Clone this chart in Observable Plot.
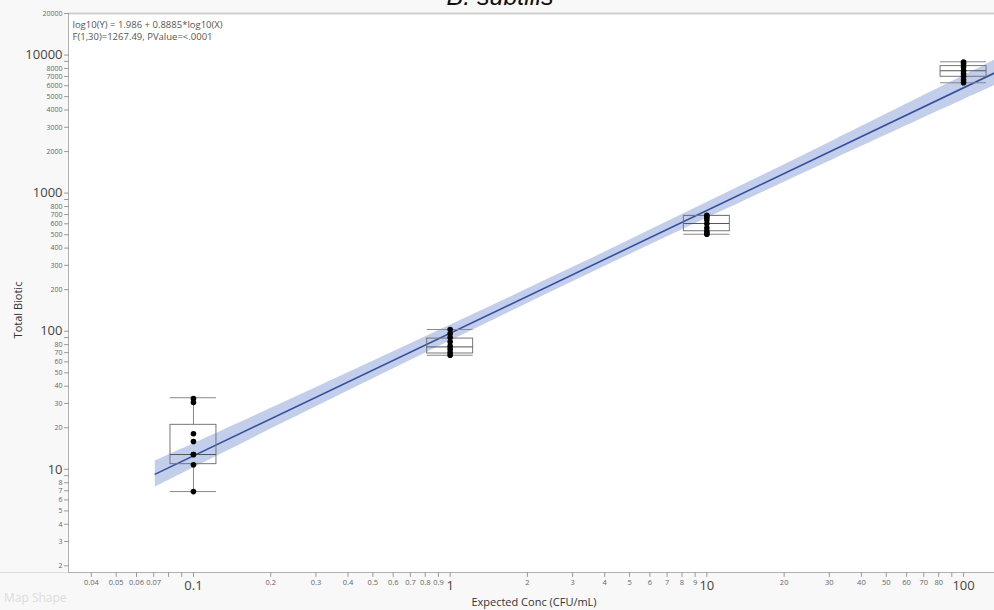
<!DOCTYPE html>
<html><head><meta charset="utf-8">
<script src="https://cdn.jsdelivr.net/npm/d3@7"></script>
<script src="https://cdn.jsdelivr.net/npm/@observablehq/plot@0.6"></script>
<style>
body{margin:0;background:#f8f8f8;font-family:"Open Sans","Noto Sans",sans-serif;}
#wrap{position:relative;width:994px;height:610px;overflow:hidden;background:#f8f8f8;}
#chart{position:absolute;left:0;top:0;}
#title{position:absolute;top:-18px;left:0;width:1000px;text-align:center;font:italic 25px "Liberation Sans",Arial,sans-serif;color:#111;}
#map{position:absolute;left:4px;top:589px;font-size:12px;color:#dcdcdc;}
#ylab{position:absolute;left:17px;top:310px;transform:translate(-50%,-50%) rotate(-90deg);font-size:11px;color:#333;white-space:nowrap;}
#xlab{position:absolute;left:534px;top:601px;transform:translate(-50%,-50%);font-size:11px;color:#333;white-space:nowrap;}
#sep{position:absolute;left:0;top:572px;width:68px;height:1px;background:#dcdcdc;}
</style></head><body>
<div id="wrap">
<div id="chart"></div>
<div id="title">B. subtilis</div>
<div id="sep"></div>
<div id="map">Map Shape</div>
<div id="ylab">Total Biotic</div>
<div id="xlab">Expected Conc (CFU/mL)</div>
</div>
<script>
// ---- data ----
const conc = [0.1, 1, 10, 100];
const biotic01 = [32.5, 30.5, 18.1, 15.9, 12.8, 12.8, 10.8, 6.9];
const biotic1 = [103, 96, 90, 84, 78, 74, 70, 67];
const biotic10 = [690, 670, 640, 600, 560, 530, 510, 504];
const biotic100 = [8900, 8650, 8200, 7700, 7350, 7000, 6600, 6300];
const boxMin = [6.9, 67, 504, 6300];
const boxQ1 = [10.9, 69, 530, 6960];
const boxMed = [12.8, 77, 603, 7700];
const boxQ3 = [21, 88.5, 684, 8320];
const boxMax = [33, 103, 690, 8940];
const fitIntercept = 1.986, fitSlope = 0.8885;
const fitX = [0.071, 132];
const bandX = [0.071, 0.1, 0.316, 1, 3.16, 10, 31.6, 100, 132];
const bandHalf = [0.094, 0.087, 0.069, 0.057, 0.051, 0.057, 0.069, 0.087, 0.093];
const xMajor = [0.1, 1, 10, 100];
const xMinorLabeled = [0.04,0.05,0.06,0.07,0.2,0.3,0.4,0.5,0.6,0.7,0.8,0.9,2,3,4,5,6,7,8,9,20,30,40,50,60,70,80];
const xMinorUnlabeled = [0.08, 0.09, 90];
const yMajor = [10, 100, 1000, 10000];
const yMinorLabeled = [2,3,4,5,6,7,8,20,30,40,50,60,70,80,200,300,400,500,600,700,800,2000,3000,4000,5000,6000,7000,8000,20000];
const yMinorUnlabeled = [9, 90, 900, 9000];
const eqLines = ["log10(Y) = 1.986 + 0.8885*log10(X)", "F(1,30)=1267.49, PValue=<.0001"];

// ---- build tables ----
const pts = [biotic01, biotic1, biotic10, biotic100].flatMap((arr, i) => arr.map(v => ({x: conc[i], y: v})));
const boxHalf = 1.229;
const boxes = conc.map((c, i) => ({x: c, x1: c / boxHalf, x2: c * boxHalf, min: boxMin[i], q1: boxQ1[i], med: boxMed[i], q3: boxQ3[i], max: boxMax[i]}));
const fit = x => Math.pow(10, fitIntercept + fitSlope * Math.log10(x));
const fitLine = fitX.map(x => ({x, y: fit(x)}));
const band = bandX.map((x, i) => {
  const c = fitIntercept + fitSlope * Math.log10(x);
  return {x, y1: Math.pow(10, c - bandHalf[i]), y2: Math.pow(10, c + bandHalf[i])};
});
const xDom = [0.0326, 132], yDom = [1.79, 20000];
const fmt = d => String(d);
const tickShape = {draw(context, l) { context.moveTo(0, 0); context.lineTo(0, -l); }};
const xTicksAll = [...xMajor, ...xMinorLabeled, ...xMinorUnlabeled];
const yTicksAll = [...yMajor, ...yMinorLabeled, ...yMinorUnlabeled];

const chart = Plot.plot({
  width: 994, height: 610,
  marginLeft: 68, marginRight: 0, marginTop: 13, marginBottom: 38,
  style: {background: "transparent", fontFamily: "'Open Sans','Noto Sans',sans-serif"},
  x: {type: "log", domain: xDom, axis: null},
  y: {type: "log", domain: yDom, axis: null},
  marks: [
    Plot.frame({fill: "white", stroke: null}),
    Plot.ruleY([yDom[1]], {stroke: "#cfcfcf", strokeWidth: 2}),
    Plot.areaY(band, {x: "x", y1: "y1", y2: "y2", fill: "#b9c5e8", fillOpacity: 0.85, curve: "catmull-rom"}),
    Plot.line(fitLine, {x: "x", y: "y", stroke: "#3350a0", strokeWidth: 1.6}),
    Plot.ruleX(boxes, {x: "x", y1: "min", y2: "q1", stroke: "#888", strokeWidth: 1}),
    Plot.ruleX(boxes, {x: "x", y1: "q3", y2: "max", stroke: "#888", strokeWidth: 1}),
    Plot.ruleY(boxes, {x1: "x1", x2: "x2", y: "min", stroke: "#888", strokeWidth: 1}),
    Plot.ruleY(boxes, {x1: "x1", x2: "x2", y: "max", stroke: "#888", strokeWidth: 1}),
    Plot.rect(boxes, {x1: "x1", x2: "x2", y1: "q1", y2: "q3", stroke: "#777", fill: "none", strokeWidth: 1}),
    Plot.ruleY(boxes, {x1: "x1", x2: "x2", y: "med", stroke: "#555", strokeWidth: 1}),
    Plot.dot(pts, {x: "x", y: "y", r: 2.8, fill: "black", stroke: null}),
    Plot.ruleX([xDom[0]], {stroke: "#b0b0b0"}),
    Plot.ruleY([yDom[0]], {stroke: "#b0b0b0"}),
    // x axis (manual)
    Plot.vector(xTicksAll, {x: d => d, frameAnchor: "bottom", length: 4, rotate: 180, anchor: "start", shape: tickShape, stroke: "#999", strokeWidth: 1}),
    Plot.text(xMajor, {x: d => d, text: fmt, frameAnchor: "bottom", lineAnchor: "top", dy: 8, fontSize: 13, fill: "#444"}),
    Plot.text(xMinorLabeled, {x: d => d, text: fmt, frameAnchor: "bottom", lineAnchor: "top", dy: 7, fontSize: 7.5, fill: "#666"}),
    // y axis (manual)
    Plot.vector(yTicksAll, {y: d => d, frameAnchor: "left", length: 4, rotate: 270, anchor: "start", shape: tickShape, stroke: "#999", strokeWidth: 1}),
    Plot.text(yMajor, {y: d => d, text: fmt, frameAnchor: "left", textAnchor: "end", dx: -6, fontSize: 13, fill: "#444"}),
    Plot.text(yMinorLabeled, {y: d => d, text: fmt, frameAnchor: "left", textAnchor: "end", dx: -6, fontSize: 7, fill: "#666"}),
    // equation
    Plot.text([eqLines.join("\n")], {text: d => d, frameAnchor: "top-left", textAnchor: "start", lineAnchor: "top", dx: 4, dy: 5, lineHeight: 1.35, fontSize: 9.5, fill: "#555"})
  ]
});
document.getElementById("chart").appendChild(chart);
</script>
</body></html>
